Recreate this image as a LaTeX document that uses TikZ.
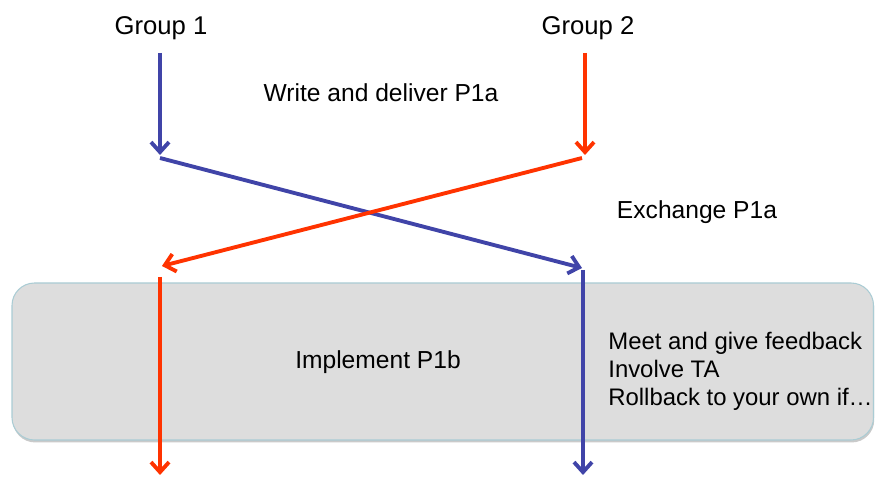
\documentclass[tikz,border=0pt]{standalone}
\usepackage{fontspec}
\setmainfont{Liberation Sans}
\usepackage{xcolor}
\usepackage{tikz}
\usetikzlibrary{arrows.meta}
\usetikzlibrary{shadows}
\definecolor{grpblue}{RGB}{64,68,168}
\definecolor{grpred}{RGB}{255,51,0}
\definecolor{bandgrey}{RGB}{221,221,221}
\definecolor{bandline}{RGB}{170,204,212}
\tikzset{
	group text/.style={font=\fontsize{14.6}{17}\selectfont},
	step text/.style={font=\fontsize{14}{15.9}\selectfont},
	list text/.style={font=\fontsize{13.6}{15.9}\selectfont},
	blue path/.style={draw=grpblue,line width=2.2pt},
	red path/.style={draw=grpred,line width=2.2pt},
	band/.style={fill=bandgrey,draw=bandline,line width=0.6pt,rounded corners=0.45cm,
		drop shadow={shadow xshift=0.4pt,shadow yshift=-1.4pt,opacity=0.35,fill=black!60}}
}

\begin{document}
\begin{tikzpicture}[>={Straight Barb[length=2mm,width=3.6mm]}]

	    \useasboundingbox (0,0) rectangle (17.5,-9.54);

	    \path[band] (0.24,-5.66) rectangle (17.47,-8.8);

	    \node[group text] (g1) at (3.22,-0.56) {Group 1};
	    \node[group text] (g2) at (11.76,-0.56) {Group 2};
	    \node[step text] (write) at (7.62,-1.86) {Write and deliver P1a};
	    \node[step text] (exch) at (13.94,-4.24) {Exchange P1a};
	    \node[step text] (impl) at (7.56,-7.24) {Implement P1b};
	    \node[list text,align=left,anchor=west,inner sep=0pt] (meet) at (12.16,-7.42)
	        {Meet and give feedback\\Involve TA\\Rollback to your own if…};

	    \coordinate (b0) at (3.2,-1.06);
	    \coordinate (b1) at (3.2,-3.1);
	    \coordinate (b2) at (3.2,-3.16);
	    \coordinate (b3) at (11.64,-5.36);
	    \coordinate (b4) at (11.66,-5.4);
	    \coordinate (b5) at (11.66,-9.5);

	    \coordinate (r0) at (11.7,-1.06);
	    \coordinate (r1) at (11.7,-3.1);
	    \coordinate (r2) at (11.64,-3.16);
	    \coordinate (r3) at (3.24,-5.32);
	    \coordinate (r4) at (3.2,-5.54);
	    \coordinate (r5) at (3.2,-9.5);

	    \path[blue path]
	      (b0) edge[->] (b1)
	      (b2) edge[->] (b3)
	      (b4) edge[->] (b5);
	    \path[red path]
	      (r0) edge[->] (r1)
	      (r2) edge[->] (r3)
	      (r4) edge[->] (r5);
\end{tikzpicture}
\end{document}
